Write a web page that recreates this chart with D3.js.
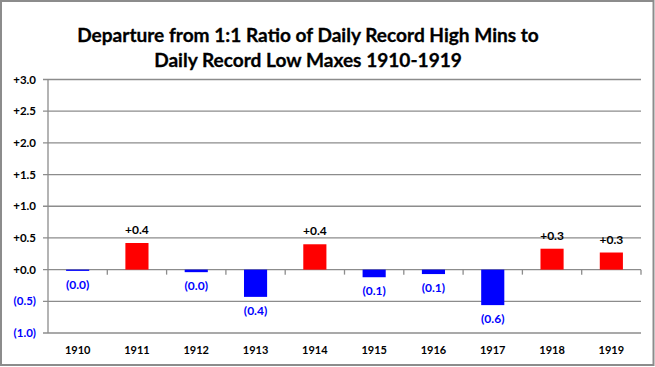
<!DOCTYPE html>
<html><head><meta charset="utf-8">
<script src="https://cdn.jsdelivr.net/npm/d3@7"></script>
<style>body{margin:0;background:#fff}svg{display:block}text{font-family:Lato,"Open Sans",sans-serif;font-weight:bold}</style>
</head><body><svg id="c" width="655" height="367"></svg>
<script>
const years = ["1910","1911","1912","1913","1914","1915","1916","1917","1918","1919"];
const values = [-0.02, 0.42, -0.04, -0.43, 0.40, -0.12, -0.07, -0.56, 0.33, 0.27];
const yTicks = [-1.0, -0.5, 0.0, 0.5, 1.0, 1.5, 2.0, 2.5, 3.0];
const titleLines = ["Departure from 1:1 Ratio of Daily Record High Mins to", "Daily Record Low Maxes 1910-1919"];

const svg = d3.select("#c");
const m = {l:48, r:641, t:79.5, b:333};
const x = d3.scaleBand().domain(years).range([m.l, m.r]).paddingInner(0.61).paddingOuter(0.305);
const xb = d3.scaleBand().domain(years).range([m.l, m.r]);
const y = d3.scaleLinear().domain([-1, 3]).range([m.b, m.t]);
const fmt = v => v < 0 ? "(" + Math.abs(v).toFixed(1) + ")" : "+" + v.toFixed(1);
const grid = "#8c8c8c";

svg.append("rect").attr("x",1).attr("y",1).attr("width",652.5).attr("height",364).attr("fill","#fff").attr("stroke",grid).attr("stroke-width",2);

svg.append("g").selectAll("text").data(titleLines).join("text")
  .attr("x", 308).attr("y", (d,i)=>42+i*25).attr("text-anchor","middle")
  .attr("font-size", 19.1).attr("fill","#000").attr("stroke","#000").attr("stroke-width",0.3).text(d=>d);

// gridlines
svg.append("g").selectAll("line").data(yTicks).join("line")
  .attr("x1", m.l-5).attr("x2", m.r).attr("y1", d=>y(d)).attr("y2", d=>y(d))
  .attr("stroke", grid).attr("stroke-width",1.3);
svg.append("line").attr("x1",m.l).attr("x2",m.l).attr("y1",m.t).attr("y2",m.b).attr("stroke",grid).attr("stroke-width",1.3);

// y labels
svg.append("g").selectAll("text").data(yTicks).join("text")
  .attr("x", 36).attr("y", d=>y(d)+4).attr("text-anchor","end").attr("font-size",11.5)
  .attr("fill", d=>d<0?"#0000ff":"#000").text(d=>fmt(d));

// x ticks on zero line
const bounds = years.map(d=>xb(d)).concat([m.r]);
svg.append("g").selectAll("line").data(bounds.slice(1)).join("line")
  .attr("x1",d=>d).attr("x2",d=>d).attr("y1",y(0)).attr("y2",y(0)+5)
  .attr("stroke",grid).attr("stroke-width",1.3);

// bars
svg.append("g").selectAll("rect").data(values).join("rect")
  .attr("x",(d,i)=>x(years[i])).attr("width",x.bandwidth())
  .attr("y",d=>y(Math.max(0,d))).attr("height",d=>Math.abs(y(d)-y(0)))
  .attr("fill",d=>d<0?"#0000ff":"#ff0000");

// data labels
svg.append("g").selectAll("text").data(values).join("text")
  .attr("x",(d,i)=>x(years[i])+x.bandwidth()/2)
  .attr("y",d=>d<0?y(d)+18:y(d)-9).attr("text-anchor","middle").attr("font-size",12)
  .attr("fill",d=>d<0?"#0000ff":"#000").text(d=>fmt(d));

// x labels
svg.append("g").selectAll("text").data(years).join("text")
  .attr("x",d=>xb(d)+xb.bandwidth()/2).attr("y",354).attr("text-anchor","middle")
  .attr("font-size",11).attr("fill","#000").text(d=>d);
</script></body></html>
